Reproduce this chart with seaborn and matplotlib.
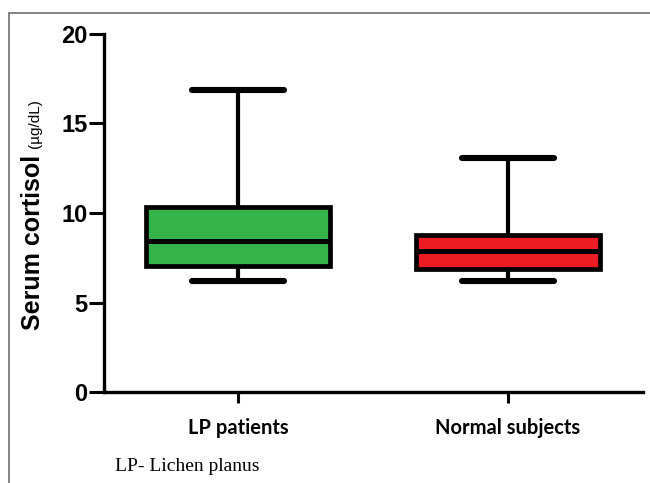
import numpy as np
import pandas as pd
import matplotlib
matplotlib.use("Agg")
import matplotlib.pyplot as plt
import seaborn as sns
from matplotlib.lines import Line2D

# ---- data (five-number summaries) ----
groups = ["LP patients", "Normal subjects"]
lp_values = [6.2, 7.05, 8.45, 10.35, 16.85]       # min, q1, median, q3, max
normal_values = [6.2, 6.85, 7.85, 8.77, 13.05]
colors = {"LP patients": "#35b34a", "Normal subjects": "#ed1c24"}
y_ticks = [0, 5, 10, 15, 20]
y_label = "Serum cortisol"
y_unit = "(µg/dL)"
footnote = "LP- Lichen planus"

df = pd.DataFrame({
    "group": ["LP patients"] * len(lp_values) + ["Normal subjects"] * len(normal_values),
    "value": lp_values + normal_values,
})

sns.set_theme(style="white")
plt.rcParams["font.family"] = ["Liberation Sans", "DejaVu Sans"]
plt.rcParams["text.color"] = "black"
plt.rcParams["xtick.color"] = "black"
plt.rcParams["ytick.color"] = "black"
plt.rcParams["axes.labelcolor"] = "black"

W, H = 650, 483
fig = plt.figure(figsize=(W / 100, H / 100), dpi=100)
ax = fig.add_axes([104 / W, 1 - 392 / H, (643 - 104) / W, (392 - 34) / H])

sns.boxplot(data=df, x="group", y="value", hue="group", palette=colors,
            legend=False, whis=(0, 100), width=0.68, linewidth=3,
            linecolor="black", saturation=1, ax=ax,
            capprops=dict(linewidth=4.4, solid_capstyle="round"),
            medianprops=dict(linewidth=3.6),
            boxprops=dict(linewidth=3.4))

ax.set_ylim(0, 20)
ax.set_xlim(-0.496, 1.5)
ax.set_yticks(y_ticks)
ax.set_yticklabels([str(t) for t in y_ticks], fontsize=17, fontweight="bold",
                   family=["Liberation Sans"], color="black")
ax.set_xticks([0, 1])
ax.set_xticklabels(groups, fontsize=14.5, fontweight="bold", family=["Lato"],
                   color="black")
ax.set_xlabel("")
ax.set_ylabel("")
for s in ["top", "right"]:
    ax.spines[s].set_visible(False)
for s in ["left", "bottom"]:
    ax.spines[s].set_linewidth(2.4)
    ax.spines[s].set_color("black")
ax.tick_params(axis="y", direction="out", length=11, width=2.2, pad=1, colors="black",
               left=True)
ax.tick_params(axis="x", direction="out", length=8, width=2.2, pad=11, colors="black",
               bottom=True)

# y label in two parts
t_main = fig.text(33 / W, 1 - 330 / H, y_label, rotation=90, rotation_mode="anchor",
                  ha="left", va="center", fontsize=18, fontweight="bold", color="black")
fig.canvas.draw()
bb = t_main.get_window_extent()
top_px = bb.y1  # display coords (from bottom)
fig.text(35 / W, (top_px + 7) / H, y_unit, rotation=90, rotation_mode="anchor",
         ha="left", va="center", fontsize=11, color="black")

# footnote
fig.text(115 / W, 1 - 471 / H, footnote, fontsize=14, family=["Liberation Serif"],
         ha="left", va="baseline", color="black")

# outer gray frame (top and left)
fig.add_artist(Line2D([9 / W, 9 / W], [0, 1 - 13 / H], transform=fig.transFigure,
                      color="#707070", linewidth=1.2))
fig.add_artist(Line2D([9 / W, 1], [1 - 13 / H, 1 - 13 / H], transform=fig.transFigure,
                      color="#707070", linewidth=1.2))

fig.savefig("out.png", dpi=100)
